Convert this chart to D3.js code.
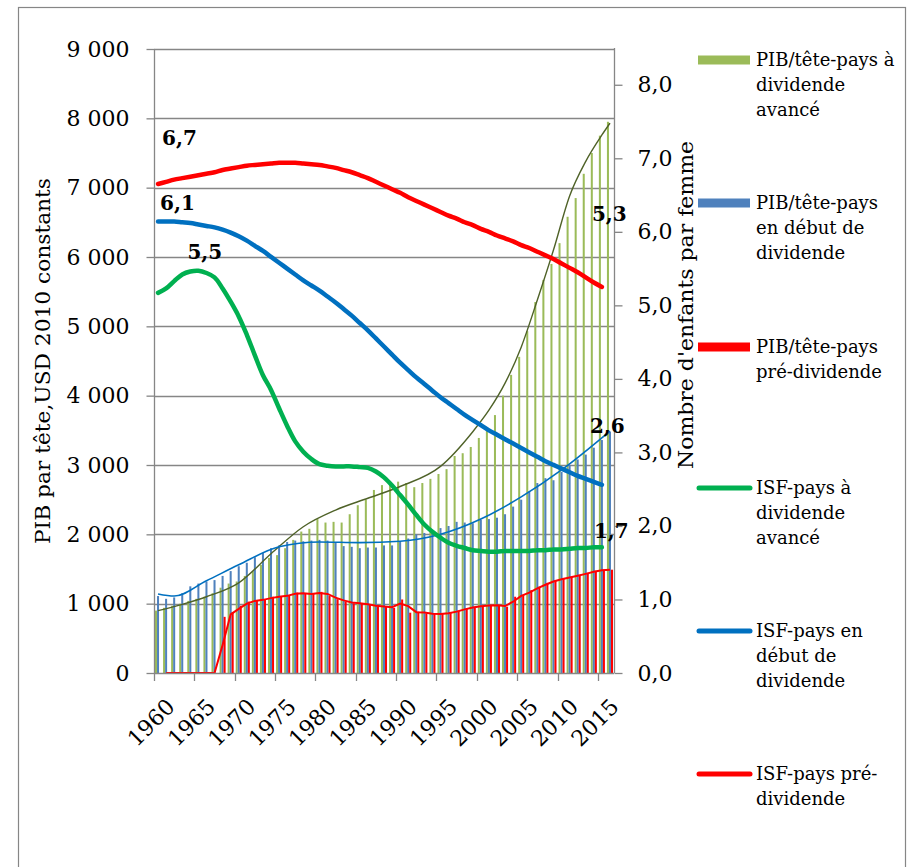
<!DOCTYPE html>
<html><head><meta charset="utf-8">
<script src="https://cdn.jsdelivr.net/npm/d3@7"></script>
<style>body{margin:0;background:#fff}svg{display:block}</style>
</head><body>
<svg id="c" width="912" height="867"></svg>
<script>
// ---------- DATA ----------
const years = d3.range(1960, 2017);
const gdpAdvanced = [900,940,970,1000,1040,1070,1100,1150,1230,1290,
  1320,1400,1470,1560,1660,1700,1800,1920,2040,2080,
  2220,2170,2180,2170,2290,2420,2500,2640,2710,2760,
  2760,2740,2680,2740,2800,2870,2940,3130,3170,3260,
  3390,3530,3720,4000,4300,4560,4930,5350,5670,5900,
  6200,6580,6850,7200,7500,7750,7950];
const gdpEarly = [1110,1070,1090,1150,1250,1290,1320,1340,1400,1470,
  1540,1590,1670,1730,1800,1840,1890,1910,1900,1910,
  1920,1910,1880,1830,1820,1800,1810,1810,1840,1840,
  1890,1940,2000,2020,2050,2090,2120,2180,2170,2160,
  2210,2220,2240,2290,2400,2500,2620,2740,2810,2780,
  2900,3000,3080,3150,3250,3360,3480];
const gdpPre = [0,0,0,0,0,0,0,0,810,880,
  970,1030,1050,1060,1100,1100,1125,1160,1140,1140,
  1170,1110,1065,1030,1005,1005,980,960,957,940,
  1060,870,885,860,851,851,870,900,935,957,
  966,980,975,957,1100,1125,1195,1245,1300,1340,
  1365,1390,1415,1445,1475,1490,1490];
const isfYears = d3.range(1960, 2016);
const isfAdvanced = [5.17,5.23,5.33,5.42,5.46,5.47,5.44,5.38,5.23,5.05,
  4.85,4.60,4.32,4.05,3.85,3.60,3.36,3.15,3.01,2.91,
  2.84,2.82,2.81,2.81,2.81,2.80,2.79,2.74,2.66,2.55,
  2.42,2.29,2.15,2.02,1.92,1.84,1.77,1.73,1.70,1.67,
  1.66,1.65,1.65,1.66,1.66,1.66,1.66,1.67,1.67,1.68,
  1.68,1.69,1.70,1.70,1.71,1.71];
const isfEarly = [6.14,6.14,6.14,6.13,6.12,6.10,6.08,6.06,6.03,5.99,
  5.94,5.88,5.81,5.74,5.66,5.58,5.50,5.42,5.34,5.27,
  5.20,5.12,5.04,4.95,4.86,4.76,4.66,4.55,4.44,4.33,
  4.22,4.12,4.02,3.93,3.84,3.75,3.67,3.59,3.51,3.44,
  3.37,3.30,3.24,3.18,3.12,3.06,3.00,2.94,2.88,2.83,
  2.78,2.73,2.68,2.64,2.60,2.56];
const isfPre = [6.65,6.68,6.71,6.73,6.75,6.77,6.79,6.81,6.84,6.86,
  6.88,6.90,6.91,6.92,6.93,6.94,6.94,6.94,6.93,6.92,
  6.91,6.89,6.87,6.84,6.81,6.77,6.73,6.68,6.63,6.58,
  6.53,6.47,6.42,6.37,6.32,6.27,6.22,6.18,6.13,6.09,
  6.04,6.00,5.95,5.91,5.87,5.82,5.78,5.73,5.68,5.63,
  5.57,5.51,5.45,5.38,5.31,5.25];
// trend lines
const trendAdvYears = [1960,1963,1966,1970,1974,1978,1982,1986,1990,1995,1999,2001,2003,2005,2007,2009,2011,2013,2015,2016];
const trendAdvValues = [900,990,1100,1300,1720,2110,2350,2520,2690,2980,3480,3790,4180,4700,5380,6100,6880,7380,7760,7930];
const trendEarlyYears = [1960,1962,1966,1970,1975,1980,1985,1990,1995,2000,2005,2010,2016];
const trendEarlyValues = [1140,1110,1330,1560,1820,1890,1880,1900,2000,2220,2540,2930,3490];
const leftTicks = [0,1000,2000,3000,4000,5000,6000,7000,8000,9000];
const rightTicks = [0,1,2,3,4,5,6,7,8];
const xLabelYears = [1960,1965,1970,1975,1980,1985,1990,1995,2000,2005,2010,2015];
const legendItems = [
  {lines:["PIB/tête-pays à","dividende","avancé"], kind:"bar", key:"gA"},
  {lines:["PIB/tête-pays","en début de","dividende"], kind:"bar", key:"gE"},
  {lines:["PIB/tête-pays","pré-dividende"], kind:"bar", key:"gP"},
  {lines:["ISF-pays à","dividende","avancé"], kind:"line", key:"iA"},
  {lines:["ISF-pays en","début de","dividende"], kind:"line", key:"iE"},
  {lines:["ISF-pays pré-","dividende"], kind:"line", key:"iP"}
];

// ---------- STYLE ----------
const col = {gA:"#9BBB59", gE:"#4F81BD", gP:"#FF0000", iA:"#00B050", iE:"#0070C0", iP:"#FF0000",
  tA:"#4F6228", tE:"#0070C0", tP:"#FF0000", axis:"#868686"};
const FONT = "'DejaVu Serif', serif";

const svg = d3.select("#c");
const L = 154, R = 614, T = 49, B = 673;
const x = d3.scaleBand().domain(years).range([L, R]);
const xs = d3.scaleBand().domain(["gA","gE","gP"]).range([0, x.bandwidth()]).paddingOuter(0.5);
const cx = yr => x(yr) + x.bandwidth()/2;
const yL = d3.scaleLinear().domain([0, 9000]).range([B, T]);
const yR = d3.scaleLinear().domain([0, 8.5]).range([B, 48]);
const fr = d3.formatLocale({decimal:",", thousands:"\u00a0", grouping:[3], currency:["",""]});
const fL = fr.format(",.0f"), fR = fr.format(".1f");

// outer border
svg.append("rect").attr("x",18.5).attr("y",7.5).attr("width",887).attr("height",900)
  .attr("fill","none").attr("stroke",col.axis).attr("stroke-width",1.2);

// gridlines
svg.append("g").selectAll("line").data(leftTicks.filter(d=>d>0)).join("line")
  .attr("x1",L).attr("x2",R).attr("y1",d=>Math.round(yL(d))+0.5).attr("y2",d=>Math.round(yL(d))+0.5)
  .attr("stroke",col.axis).attr("stroke-width",1.3);

// bars
const barSeries = [["gA",gdpAdvanced],["gE",gdpEarly],["gP",gdpPre]];
barSeries.forEach(([k, vals]) => {
  svg.append("g").selectAll("rect").data(vals.map((v,i)=>({yr:years[i], v}))).join("rect")
    .attr("x", d => x(d.yr) + xs(k)).attr("width", xs.bandwidth())
    .attr("y", d => yL(d.v)).attr("height", d => B - yL(d.v))
    .attr("fill", col[k]);
});

// trend lines
const sm = d3.line().curve(d3.curveMonotoneX);
svg.append("path").attr("d", sm(trendAdvYears.map((yr,i)=>[cx(yr), yL(trendAdvValues[i])])))
  .attr("fill","none").attr("stroke",col.tA).attr("stroke-width",1.4);
svg.append("path").attr("d", sm(trendEarlyYears.map((yr,i)=>[cx(yr), yL(trendEarlyValues[i])])))
  .attr("fill","none").attr("stroke",col.tE).attr("stroke-width",1.6);
// 2-period moving average trendline of the pre-dividend GDP series
const ma = gdpPre.slice(1).map((v,i)=>[cx(years[i+1]), yL((v + gdpPre[i])/2)]);
svg.append("path").attr("d", d3.line()(ma)).attr("fill","none").attr("stroke",col.tP).attr("stroke-width",2);

// ISF lines
const cr = d3.line().curve(d3.curveCatmullRom.alpha(0.5));
[["iP",isfPre],["iE",isfEarly],["iA",isfAdvanced]].forEach(([k, vals]) => {
  svg.append("path").attr("d", cr(vals.map((v,i)=>[cx(isfYears[i]), yR(v)])))
    .attr("fill","none").attr("stroke",col[k]).attr("stroke-width",4.5).attr("stroke-linecap","round");
});

// axes
const axL = svg.append("g").attr("transform",`translate(${L+0.5},0)`)
  .call(d3.axisLeft(yL).tickValues(leftTicks).tickSize(8).tickSizeOuter(0).tickPadding(17).tickFormat(fL));
const axR = svg.append("g").attr("transform",`translate(${R+0.5},0)`)
  .call(d3.axisRight(yR).tickValues(rightTicks).tickSize(8).tickSizeOuter(0).tickPadding(15).tickFormat(fR));
[axL, axR].forEach(a => {
  a.select(".domain").attr("stroke",col.axis).attr("stroke-width",1.3);
  a.selectAll(".tick line").attr("stroke",col.axis).attr("stroke-width",1.3);
  a.selectAll(".tick text").attr("fill","#000").style("font-family",FONT).style("font-size","22px");
});
axR.select(".domain").attr("d", `M0,${B}V48`);
axL.select(".domain").attr("d", `M0,${B}V${T}`);
// x axis
svg.append("line").attr("x1",L).attr("x2",R).attr("y1",B+0.5).attr("y2",B+0.5)
  .attr("stroke",col.axis).attr("stroke-width",1.3);
svg.append("g").selectAll("line").data(xLabelYears).join("line")
  .attr("x1",d=>Math.round(x(d))+0.5).attr("x2",d=>Math.round(x(d))+0.5)
  .attr("y1",B).attr("y2",B+8).attr("stroke",col.axis).attr("stroke-width",1.3);
svg.append("g").selectAll("text").data(xLabelYears).join("text")
  .attr("transform", d => `translate(${cx(d)+7},${B+24}) rotate(-45)`)
  .attr("text-anchor","end").attr("dy","0.72em")
  .style("font-family",FONT).style("font-size","22px").text(d=>d);

// axis titles
svg.append("text").attr("transform","translate(50,361) rotate(-90)").attr("text-anchor","middle")
  .attr("textLength",366).attr("lengthAdjust","spacingAndGlyphs")
  .style("font-family",FONT).style("font-size","21px").text("PIB par tête,USD 2010 constants");
svg.append("text").attr("transform","translate(693,305) rotate(-90)").attr("text-anchor","middle")
  .attr("textLength",328).attr("lengthAdjust","spacingAndGlyphs")
  .style("font-family",FONT).style("font-size","21px").text("Nombre d'enfants par femme");

// data labels
const dl = [
  {vals:isfPre, i:0, t:"6,7", dx:4, dy:-39},
  {vals:isfEarly, i:0, t:"6,1", dx:2, dy:-12},
  {vals:isfAdvanced, i:5, t:"5,5", dx:-11, dy:-12},
  {vals:isfPre, i:55, t:"5,3", dx:-10, dy:-66},
  {vals:isfEarly, i:55, t:"2,6", dx:-12, dy:-52},
  {vals:isfAdvanced, i:55, t:"1,7", dx:-8, dy:-9}
];
svg.append("g").selectAll("text").data(dl).join("text")
  .attr("x", d => cx(isfYears[d.i]) + d.dx).attr("y", d => yR(d.vals[d.i]) + d.dy)
  .style("font-family",FONT).style("font-size","20px").style("font-weight","bold").text(d=>d.t);

// legend
const legY = [60, 203, 347, 488, 631, 774];
legendItems.forEach((it, j) => {
  const g = svg.append("g").attr("transform",`translate(0,${legY[j]})`);
  if (it.kind === "bar") g.append("rect").attr("x",698).attr("y",-4.5).attr("width",52).attr("height",9).attr("fill",col[it.key]);
  else g.append("line").attr("x1",699).attr("x2",750).attr("y1",0).attr("y2",0).attr("stroke",col[it.key])
        .attr("stroke-width",5).attr("stroke-linecap","round");
  g.selectAll("text").data(it.lines).join("text").attr("x",756).attr("y",(d,k)=>k*25).attr("dy","0.35em")
    .style("font-family",FONT).style("font-size","18px").text(d=>d);
});
</script>
</body></html>
